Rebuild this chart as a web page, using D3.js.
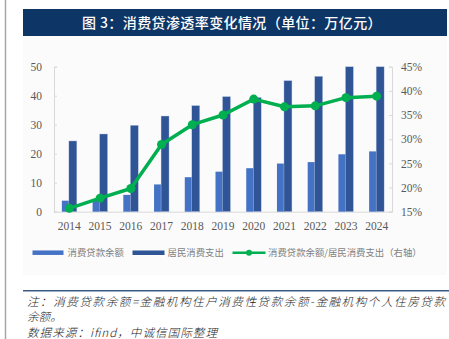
<!DOCTYPE html>
<html>
<head>
<meta charset="utf-8">
<script src="https://cdn.jsdelivr.net/npm/d3@7"></script>
<style>
  html, body { margin: 0; padding: 0; background: #fff; }
  svg { display: block; }
</style>
</head>
<body>
<div id="chart"></div>
<script>
// years and the two bar series (万亿元) plus the ratio line (%)
const years = ['2014', '2015', '2016', '2017', '2018', '2019', '2020', '2021', '2022', '2023', '2024'];
const loanBalance = [3.8, 4.4, 5.8, 9.4, 11.9, 13.8, 15.0, 16.6, 17.1, 19.8, 20.8];
const consumption = [24.4, 26.8, 29.8, 33.0, 36.6, 39.7, 39.4, 45.2, 46.7, 50.0, 50.0];
const ratio = [15.7, 17.8, 19.8, 28.9, 33.0, 35.0, 38.3, 36.7, 36.9, 38.6, 38.9];

const leftTicks = [0, 10, 20, 30, 40, 50];
const rightTicks = [15, 20, 25, 30, 35, 40, 45];

const seriesNames = ['消费贷款余额', '居民消费支出', '消费贷款余额/居民消费支出（右轴）'];
const titleText = '图 3：消费贷渗透率变化情况（单位：万亿元）';
const noteLines = [
    '注：消费贷款余额=金融机构住户消费性贷款余额-金融机构个人住房贷款',
    '余额。',
    '数据来源：ifind，中诚信国际整理'
];

const W = 449, H = 339;
const colLight = '#4472C4', colDark = '#2F5597', colGreen = '#00B050';
const latin = '"Liberation Serif", "DejaVu Serif", serif';
const cjk = '"Noto Sans CJK SC", sans-serif';

const svg = d3.select('#chart').append('svg')
    .attr('width', W)
    .attr('height', H);

// page rule on the left
svg.append('line')
    .attr('x1', 5.5).attr('x2', 5.5)
    .attr('y1', 0).attr('y2', H)
    .attr('stroke', '#a6a6a6')
    .attr('stroke-width', 1.5);

// faint chart panel
svg.append('rect')
    .attr('x', 23).attr('y', 36)
    .attr('width', 424).attr('height', 239)
    .attr('fill', '#fbfbfb');

// title bar
svg.append('rect')
    .attr('x', 23).attr('y', 9)
    .attr('width', 424).attr('height', 27)
    .attr('fill', '#0d3566');

svg.append('text')
    .attr('x', 232).attr('y', 27.5)
    .attr('text-anchor', 'middle')
    .attr('fill', '#fff')
    .style('font-family', cjk)
    .style('font-size', '14px')
    .style('font-weight', 500)
    .style('letter-spacing', '0.4px')
    .text(titleText);

// plot area
const plotL = 54, plotR = 392, plotT = 66.7, plotB = 211.7;

const x = d3.scaleBand()
    .domain(years)
    .range([plotL, plotR])
    .padding(0);

const yL = d3.scaleLinear()
    .domain([0, 50])
    .range([plotB, plotT]);

const yR = d3.scaleLinear()
    .domain([15, 45])
    .range([plotB, plotT]);

const barW = 7.5;
const cx = d => x(d) + x.bandwidth() / 2;

// axes
const axisColor = '#d9d9d9';

function styleTicks(g) {
    g.select('.domain').attr('stroke', axisColor);
    g.selectAll('.tick line').attr('stroke', axisColor);
    g.selectAll('.tick text')
        .attr('fill', '#595959')
        .style('font-family', latin)
        .style('font-size', '11.5px');
}

const gL = svg.append('g')
    .attr('transform', `translate(${plotL},0)`)
    .call(d3.axisRight(yL).tickValues(leftTicks).tickSize(3).tickFormat(d3.format('d')))
    .call(styleTicks);
gL.selectAll('.tick text')
    .attr('x', -12)
    .attr('text-anchor', 'end');

const gR = svg.append('g')
    .attr('transform', `translate(${plotR},0)`)
    .call(d3.axisLeft(yR).tickValues(rightTicks).tickSize(3).tickFormat(d => d + '%'))
    .call(styleTicks);
gR.selectAll('.tick text')
    .attr('x', 9)
    .attr('text-anchor', 'start');

const gB = svg.append('g')
    .attr('transform', `translate(0,${plotB})`)
    .call(d3.axisBottom(x).tickSize(0))
    .call(styleTicks);
gB.selectAll('.tick text')
    .attr('dy', 0)
    .attr('y', 18.5);

// bars
svg.append('g').selectAll('rect')
    .data(years)
    .join('rect')
    .attr('x', d => cx(d) - barW)
    .attr('y', (d, i) => yL(loanBalance[i]))
    .attr('width', barW)
    .attr('height', (d, i) => plotB - yL(loanBalance[i]))
    .attr('fill', colLight);

svg.append('g').selectAll('rect')
    .data(years)
    .join('rect')
    .attr('x', d => cx(d) - 0.5)
    .attr('y', (d, i) => yL(consumption[i]))
    .attr('width', barW + 0.5)
    .attr('height', (d, i) => plotB - yL(consumption[i]))
    .attr('fill', colDark)
    .attr('stroke', '#c9d3e6')
    .attr('stroke-width', 0.4);

// ratio line on the right axis
const line = d3.line()
    .x(d => cx(d))
    .y((d, i) => yR(ratio[i]));

svg.append('path')
    .datum(years)
    .attr('d', line)
    .attr('fill', 'none')
    .attr('stroke', colGreen)
    .attr('stroke-width', 3.5)
    .attr('stroke-linejoin', 'round');

svg.append('g').selectAll('circle')
    .data(years)
    .join('circle')
    .attr('cx', d => cx(d))
    .attr('cy', (d, i) => yR(ratio[i]))
    .attr('r', 4.5)
    .attr('fill', colGreen);

// legend
const legY = 252.7;
const legend = svg.append('g');
const legItems = [
    { sx: 32.5, sw: 31, tx: 67.5, color: colLight, dot: false },
    { sx: 132.5, sw: 32, tx: 167.5, color: colDark, dot: false },
    { sx: 232.5, sw: 33, tx: 268, color: colGreen, dot: true }
];

legItems.forEach((it, i) => {
    legend.append('line')
        .attr('x1', it.sx).attr('x2', it.sx + it.sw)
        .attr('y1', legY).attr('y2', legY)
        .attr('stroke', it.color)
        .attr('stroke-width', it.dot ? 2.5 : 4.5);
    if (it.dot) {
        legend.append('circle')
            .attr('cx', it.sx + it.sw / 2)
            .attr('cy', legY)
            .attr('r', 3)
            .attr('fill', it.color);
    }
    legend.append('text')
        .attr('x', it.tx)
        .attr('y', legY + 3.5)
        .attr('fill', '#7f7f7f')
        .style('font-family', cjk)
        .style('font-size', '9.4px')
        .text(seriesNames[i]);
});

// rule above the notes
svg.append('line')
    .attr('x1', 23).attr('x2', W)
    .attr('y1', 290.8).attr('y2', 290.8)
    .attr('stroke', '#3b5a86')
    .attr('stroke-width', 1.6);

// notes
const noteY = [305.5, 321, 337];
const noteLen = [418, null, 190];
noteLines.forEach((t, i) => {
    const txt = svg.append('text')
        .attr('x', 27)
        .attr('y', noteY[i])
        .attr('fill', '#1a1a1a')
        .style('font-family', cjk)
        .style('font-style', 'italic')
        .style('font-size', '11.6px')
        .style('font-weight', 300)
        .text(t);
    if (noteLen[i]) txt.attr('textLength', noteLen[i]).attr('lengthAdjust', 'spacing');
});
</script>
</body>
</html>
